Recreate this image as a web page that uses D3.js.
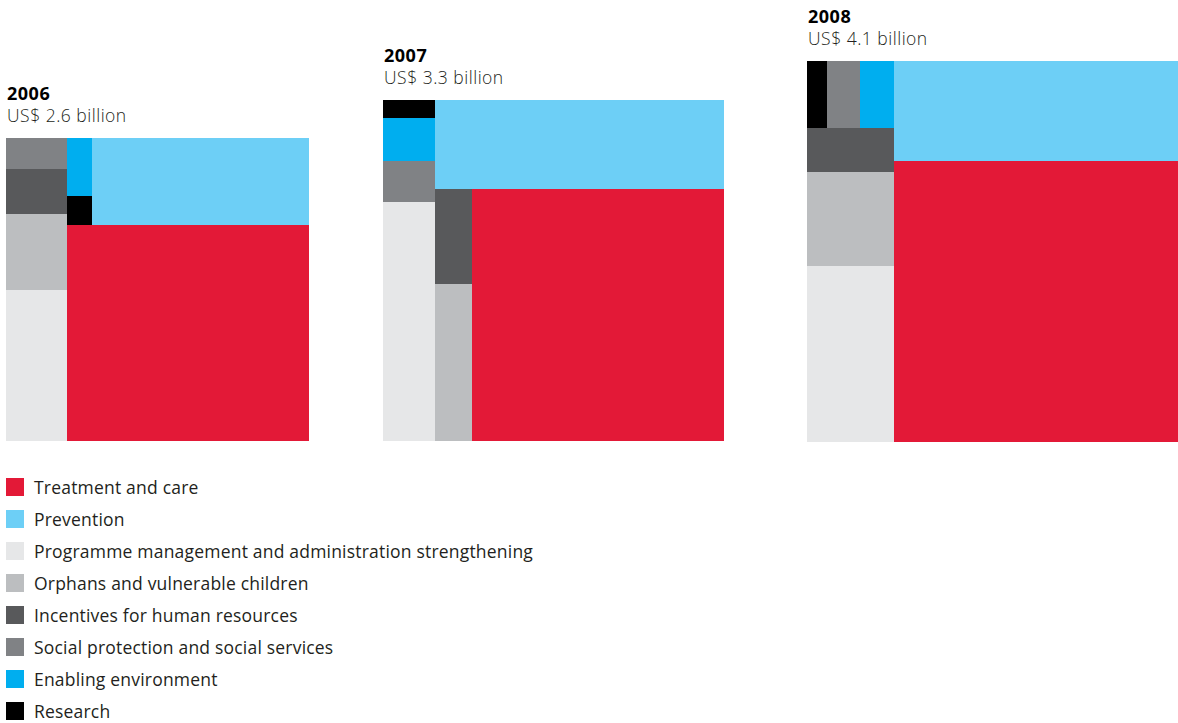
<!DOCTYPE html>
<html>
<head>
<meta charset="utf-8">
<script src="https://cdn.jsdelivr.net/npm/d3@7"></script>
<style>
  html, body { margin: 0; padding: 0; background: #fff; }
  svg { display: block; font-family: "Open Sans", Lato, sans-serif; }
</style>
</head>
<body>
<svg id="chart" width="1178" height="723"></svg>
<script>
// categories in legend order, with their fills
const categories = [
    'Treatment and care',
    'Prevention',
    'Programme management and administration strengthening',
    'Orphans and vulnerable children',
    'Incentives for human resources',
    'Social protection and social services',
    'Enabling environment',
    'Research'
];
const colors = ['#e31937', '#6dcff6', '#e6e7e8', '#bcbec0', '#58595b', '#808285', '#00aeef', '#000000'];

const years = ['2006', '2007', '2008'];
const totalLabels = ['US$ 2.6 billion', 'US$ 3.3 billion', 'US$ 4.1 billion'];

const values2006 = [1480, 535, 262, 130, 79, 53, 41, 20];
const values2007 = [1804, 726, 350, 168, 102, 61, 63, 26];
const values2008 = [2334, 832, 431, 230, 109, 63, 63, 38];
const yearValues = [values2006, values2007, values2008];

// how each square is split: 'dice' = side by side, 'slice' = stacked; leaves are category indices
const split2006 = {dir: 'dice', children: [
    {dir: 'slice', children: [5, 4, 3, 2]},
    {dir: 'slice', children: [
        {dir: 'dice', children: [{dir: 'slice', children: [6, 7]}, 1]},
        0
    ]}
]};
const split2007 = {dir: 'dice', children: [
    {dir: 'slice', children: [7, 6, 5, 2]},
    {dir: 'slice', children: [
        1,
        {dir: 'dice', children: [{dir: 'slice', children: [4, 3]}, 0]}
    ]}
]};
const split2008 = {dir: 'dice', children: [
    {dir: 'slice', children: [{dir: 'dice', children: [7, 5, 6]}, 4, 3, 2]},
    {dir: 'slice', children: [1, 0]}
]};
const yearSplits = [split2006, split2007, split2008];

const svg = d3.select('#chart');

const baseY = 441;
const blockX = [6, 383, 807];

// square side grows with the square root of the total
const side = d3.scaleSqrt().domain([0, 4100]).range([0, 380.5]);

function tile(node, x0, y0, x1, y1) {
    const fn = node.data.dir === 'dice' ? d3.treemapDice : d3.treemapSlice;
    fn(node, x0, y0, x1, y1);
}

years.forEach((year, i) => {
    const values = yearValues[i];
    const root = d3.hierarchy(yearSplits[i], d => typeof d === 'number' ? null : d.children)
        .sum(d => typeof d === 'number' ? values[d] : 0);
    const s = side(root.value);

    d3.treemap().tile(tile).size([s, s]).round(true)(root);

    const top = baseY - s;
    const g = svg.append('g').attr('transform', `translate(${blockX[i]},${top})`);

    g.selectAll('rect')
        .data(root.leaves())
        .enter()
        .append('rect')
        .attr('x', d => d.x0)
        .attr('y', d => d.y0)
        .attr('width', d => d.x1 - d.x0)
        .attr('height', d => d.y1 - d.y0)
        .attr('fill', d => colors[d.data])
        .attr('shape-rendering', 'crispEdges');

    g.append('text')
        .attr('x', 1)
        .attr('y', -38)
        .attr('font-size', 18)
        .attr('font-weight', 700)
        .attr('letter-spacing', 0.5)
        .attr('fill', '#000')
        .text(year);

    g.append('text')
        .attr('x', 1)
        .attr('y', -16)
        .attr('font-size', 17.5)
        .attr('font-weight', 300)
        .attr('letter-spacing', 0.5)
        .attr('fill', '#231f20')
        .text(totalLabels[i]);
});

// legend
const legend = svg.append('g').attr('transform', 'translate(6,478)');
const row = legend.selectAll('g')
    .data(categories)
    .enter()
    .append('g')
    .attr('transform', (d, i) => `translate(0,${i * 32})`);

row.append('rect')
    .attr('width', 18)
    .attr('height', 18)
    .attr('fill', (d, i) => colors[i]);

row.append('text')
    .attr('x', 28)
    .attr('y', 16)
    .attr('font-size', 17.5)
    .attr('letter-spacing', 0.2)
    .attr('fill', '#231f20')
    .text(d => d);
</script>
</body>
</html>
